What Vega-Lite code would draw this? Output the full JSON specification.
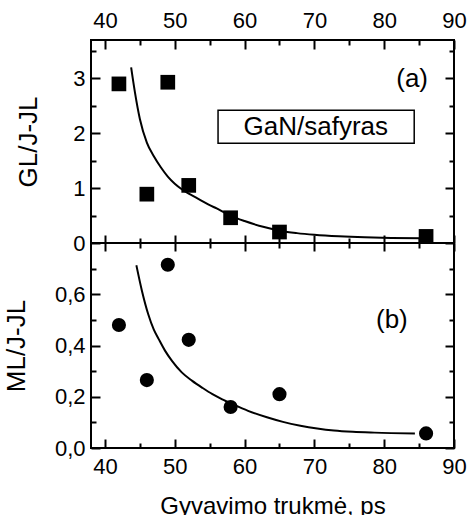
{
  "$schema": "https://vega.github.io/schema/vega-lite/v6.json",
  "background": "white",
  "padding": {"left": 2, "top": 8, "right": 5, "bottom": 5},
  "config": {
    "view": {"stroke": "black", "strokeWidth": 2},
    "axis": {"domain": false, "grid": false, "labelFont": "Liberation Sans", "titleFont": "Liberation Sans", "labelColor": "black", "titleColor": "black", "tickColor": "black", "tickWidth": 2, "titleFontWeight": "normal", "labelFlush": false, "labelOverlap": false, "labelFontSize": 22, "titleFontSize": 26},
    "text": {"font": "Liberation Sans", "color": "black"}
  },
  "datasets": {
    "gl": [
      {"t": 42, "v": 2.9}, {"t": 46, "v": 0.89}, {"t": 49, "v": 2.93}, {"t": 52, "v": 1.05},
      {"t": 58, "v": 0.46}, {"t": 65, "v": 0.2}, {"t": 86, "v": 0.12}
    ],
    "glfit": [
      {"t": 43.75, "v": 3.2}, {"t": 44.3, "v": 2.74}, {"t": 45.0, "v": 2.26}, {"t": 46.0, "v": 1.83},
      {"t": 47.0, "v": 1.58}, {"t": 48.0, "v": 1.38}, {"t": 49.0, "v": 1.21}, {"t": 50.0, "v": 1.08},
      {"t": 51.0, "v": 0.98}, {"t": 52.0, "v": 0.9}, {"t": 53.0, "v": 0.83}, {"t": 54.0, "v": 0.76},
      {"t": 55.0, "v": 0.69}, {"t": 56.0, "v": 0.63}, {"t": 57.0, "v": 0.565}, {"t": 58.0, "v": 0.5},
      {"t": 60.0, "v": 0.4}, {"t": 62.8, "v": 0.29}, {"t": 65.2, "v": 0.22}, {"t": 67.5, "v": 0.18},
      {"t": 70.0, "v": 0.15}, {"t": 73.5, "v": 0.122}, {"t": 77.2, "v": 0.103}, {"t": 81.0, "v": 0.092},
      {"t": 85.4, "v": 0.085}
    ],
    "ml": [
      {"t": 42, "v": 0.48}, {"t": 46, "v": 0.265}, {"t": 49, "v": 0.715}, {"t": 52, "v": 0.422},
      {"t": 58, "v": 0.16}, {"t": 65, "v": 0.21}, {"t": 86, "v": 0.057}
    ],
    "mlfit": [
      {"t": 44.5, "v": 0.713}, {"t": 45.3, "v": 0.613}, {"t": 46.2, "v": 0.522}, {"t": 47.0, "v": 0.462},
      {"t": 47.7, "v": 0.425}, {"t": 48.6, "v": 0.38}, {"t": 49.6, "v": 0.34}, {"t": 51.0, "v": 0.295},
      {"t": 52.5, "v": 0.262}, {"t": 54.0, "v": 0.234}, {"t": 55.4, "v": 0.21}, {"t": 56.8, "v": 0.19},
      {"t": 58.3, "v": 0.171}, {"t": 60.5, "v": 0.145}, {"t": 63.2, "v": 0.12}, {"t": 65.5, "v": 0.102},
      {"t": 68.0, "v": 0.087}, {"t": 70.4, "v": 0.076}, {"t": 72.8, "v": 0.068}, {"t": 75.5, "v": 0.063},
      {"t": 78.6, "v": 0.06}, {"t": 84.4, "v": 0.057}
    ],
    "boxa": [{"x1": 56.2, "x2": 84.3, "y1": 1.82, "y2": 2.42}],
    "texta": [{"t": 70.2, "v": 2.12, "label": "GaN/safyras"}, {"t": 84.0, "v": 2.99, "label": "(a)"}],
    "textb": [{"t": 81.1, "v": 0.5, "label": "(b)"}]
  },
  "vconcat": [
    {
      "width": 363, "height": 203,
      "resolve": {"axis": {"x": "independent", "y": "independent"}},
      "layer": [
        {
          "data": {"name": "gl"},
          "mark": {"type": "point", "shape": "square", "filled": true, "color": "black", "opacity": 1, "size": 216},
          "encoding": {
            "x": {"field": "t", "type": "quantitative", "scale": {"domain": [38, 90], "nice": false, "zero": false},
                  "axis": {"orient": "top", "values": [40, 50, 60, 70, 80, 90], "ticks": false, "labelPadding": 8, "title": null}},
            "y": {"field": "v", "type": "quantitative", "scale": {"domain": [0, 3.7], "nice": false},
                  "axis": {"orient": "left", "values": [0, 1, 2, 3], "ticks": false, "labelPadding": 6, "title": "GL/J-JL", "titlePadding": 31}}
          }
        },
        {
          "data": {"name": "glfit"},
          "mark": {"type": "line", "color": "black", "strokeWidth": 2, "interpolate": "monotone"},
          "encoding": {
            "x": {"field": "t", "type": "quantitative", "axis": {"orient": "top", "values": [40, 50, 60, 70, 80, 90], "labels": false, "tickSize": -9, "title": null}},
            "y": {"field": "v", "type": "quantitative", "axis": {"orient": "left", "values": [0, 1, 2, 3], "labels": false, "tickSize": -9, "title": null}}
          }
        },
        {
          "data": {"name": "gl"},
          "mark": {"type": "point", "opacity": 0},
          "encoding": {
            "x": {"field": "t", "type": "quantitative", "axis": {"orient": "bottom", "values": [40, 50, 60, 70, 80, 90], "labels": false, "tickSize": -8, "title": null}},
            "y": {"field": "v", "type": "quantitative", "axis": {"orient": "right", "values": [0, 1, 2, 3], "labels": false, "tickSize": -9, "title": null}}
          }
        },
        {
          "data": {"name": "gl"},
          "mark": {"type": "point", "opacity": 0},
          "encoding": {
            "x": {"field": "t", "type": "quantitative", "axis": {"orient": "top", "values": [45, 55, 65, 75, 85], "labels": false, "tickSize": -5, "title": null}},
            "y": {"field": "v", "type": "quantitative", "axis": {"orient": "left", "values": [0.5, 1.5, 2.5, 3.5], "labels": false, "tickSize": -5, "title": null}}
          }
        },
        {
          "data": {"name": "gl"},
          "mark": {"type": "point", "opacity": 0},
          "encoding": {
            "x": {"field": "t", "type": "quantitative", "axis": {"orient": "bottom", "values": [45, 55, 65, 75, 85], "labels": false, "tickSize": -5, "title": null}},
            "y": {"field": "v", "type": "quantitative", "axis": {"orient": "right", "values": [0.5, 1.5, 2.5, 3.5], "labels": false, "tickSize": -5, "title": null}}
          }
        },
        {
          "data": {"name": "boxa"},
          "mark": {"type": "rect", "fill": "white", "stroke": "black", "strokeWidth": 1.5},
          "encoding": {
            "x": {"field": "x1", "type": "quantitative", "axis": null},
            "x2": {"field": "x2"},
            "y": {"field": "y1", "type": "quantitative", "axis": null},
            "y2": {"field": "y2"}
          }
        },
        {
          "data": {"name": "texta"},
          "mark": {"type": "text", "fontSize": 26, "align": "center", "baseline": "middle"},
          "encoding": {
            "x": {"field": "t", "type": "quantitative", "axis": null},
            "y": {"field": "v", "type": "quantitative", "axis": null},
            "text": {"field": "label"}
          }
        }
      ]
    },
    {
      "width": 363, "height": 205,
      "resolve": {"axis": {"x": "independent", "y": "independent"}},
      "layer": [
        {
          "data": {"name": "ml"},
          "mark": {"type": "point", "shape": "circle", "filled": true, "color": "black", "opacity": 1, "size": 200},
          "encoding": {
            "x": {"field": "t", "type": "quantitative", "scale": {"domain": [38, 90], "nice": false, "zero": false},
                  "axis": {"orient": "bottom", "values": [40, 50, 60, 70, 80, 90], "ticks": false, "labelPadding": 8, "title": "Gyvavimo trukmė, ps", "titleFontSize": 24, "titlePadding": 17}},
            "y": {"field": "v", "type": "quantitative", "scale": {"domain": [0, 0.8], "nice": false},
                  "axis": {"orient": "left", "values": [0, 0.2, 0.4, 0.6], "ticks": false, "labelPadding": 6, "labelExpr": "replace(format(datum.value, '.1f'), '.', ',')", "title": "ML/J-JL", "titlePadding": 25}}
          }
        },
        {
          "data": {"name": "mlfit"},
          "mark": {"type": "line", "color": "black", "strokeWidth": 2, "interpolate": "monotone"},
          "encoding": {
            "x": {"field": "t", "type": "quantitative", "axis": {"orient": "bottom", "values": [40, 50, 60, 70, 80, 90], "labels": false, "tickSize": -9, "title": null}},
            "y": {"field": "v", "type": "quantitative", "axis": {"orient": "left", "values": [0, 0.2, 0.4, 0.6], "labels": false, "tickSize": -9, "title": null}}
          }
        },
        {
          "data": {"name": "ml"},
          "mark": {"type": "point", "opacity": 0},
          "encoding": {
            "x": {"field": "t", "type": "quantitative", "axis": {"orient": "top", "values": [40, 50, 60, 70, 80, 90], "labels": false, "tickSize": -8, "title": null}},
            "y": {"field": "v", "type": "quantitative", "axis": {"orient": "right", "values": [0, 0.2, 0.4, 0.6], "labels": false, "tickSize": -9, "title": null}}
          }
        },
        {
          "data": {"name": "ml"},
          "mark": {"type": "point", "opacity": 0},
          "encoding": {
            "x": {"field": "t", "type": "quantitative", "axis": {"orient": "bottom", "values": [45, 55, 65, 75, 85], "labels": false, "tickSize": -5, "title": null}},
            "y": {"field": "v", "type": "quantitative", "axis": {"orient": "left", "values": [0.1, 0.3, 0.5, 0.7], "labels": false, "tickSize": -5, "title": null}}
          }
        },
        {
          "data": {"name": "ml"},
          "mark": {"type": "point", "opacity": 0},
          "encoding": {
            "x": {"field": "t", "type": "quantitative", "axis": {"orient": "top", "values": [45, 55, 65, 75, 85], "labels": false, "tickSize": -5, "title": null}},
            "y": {"field": "v", "type": "quantitative", "axis": {"orient": "right", "values": [0.1, 0.3, 0.5, 0.7], "labels": false, "tickSize": -5, "title": null}}
          }
        },
        {
          "data": {"name": "textb"},
          "mark": {"type": "text", "fontSize": 26, "align": "center", "baseline": "middle"},
          "encoding": {
            "x": {"field": "t", "type": "quantitative", "axis": null},
            "y": {"field": "v", "type": "quantitative", "axis": null},
            "text": {"field": "label"}
          }
        }
      ]
    }
  ],
  "spacing": 0,
  "bounds": "flush"
}
